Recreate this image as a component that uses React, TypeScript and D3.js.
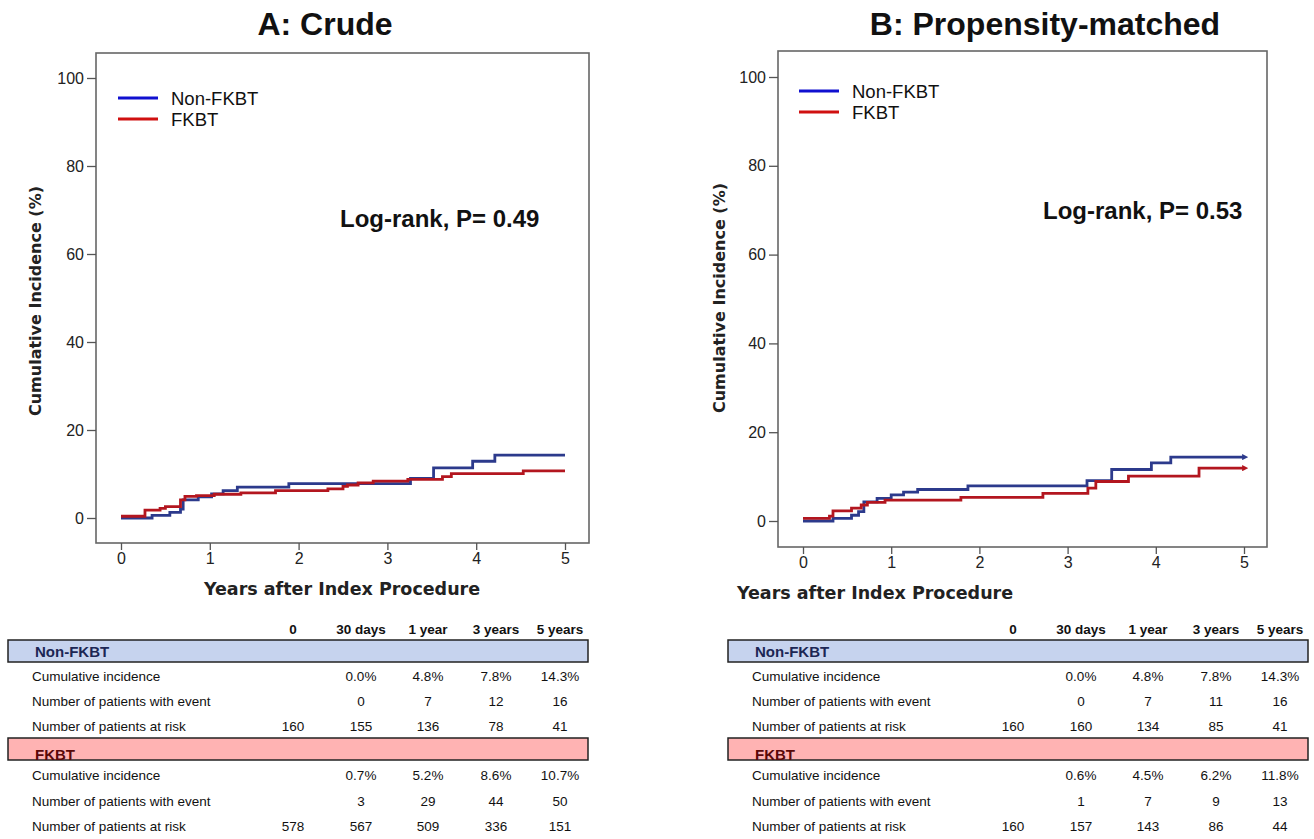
import React, { useRef, useEffect } from "react";
import { select, scaleLinear, line, curveStepAfter, axisLeft, axisBottom, format } from "d3";

// step points [years, cumulative incidence %]
const crudeNonFkbt = [
  [0, 0], [0.35, 0.6], [0.55, 1.3], [0.67, 2.0], [0.7, 4.1], [0.87, 4.8], [1.02, 5.5],
  [1.15, 6.2], [1.31, 7.0], [1.89, 7.8], [3.26, 9.0], [3.52, 11.4], [3.96, 12.9], [4.21, 14.3], [5, 14.3],
];
const crudeFkbt = [
  [0, 0.4], [0.27, 1.8], [0.44, 2.2], [0.5, 2.6], [0.67, 4.1], [0.72, 4.9], [0.85, 5.1], [1.05, 5.4],
  [1.35, 5.7], [1.74, 6.2], [2.33, 6.6], [2.5, 7.2], [2.55, 7.5], [2.67, 8.0], [2.84, 8.4],
  [3.23, 8.8], [3.62, 9.4], [3.72, 10.1], [4.53, 10.7], [5, 10.7],
];
const matchedNonFkbt = [
  [0, 0], [0.34, 0.6], [0.55, 1.3], [0.63, 2.1], [0.69, 4.3], [0.84, 5.1], [1.0, 5.9],
  [1.14, 6.5], [1.3, 7.1], [1.87, 7.9], [3.22, 9.1], [3.5, 11.6], [3.95, 13.1], [4.17, 14.4], [5, 14.4],
];
const matchedFkbt = [
  [0, 0.6], [0.3, 1.1], [0.34, 2.3], [0.55, 2.9], [0.66, 3.6], [0.73, 4.2], [0.93, 4.7],
  [1.79, 5.3], [2.72, 6.2], [3.23, 7.4], [3.32, 8.9], [3.69, 10.1], [4.49, 11.9], [5, 11.9],
];

const yearTicks = [0, 1, 2, 3, 4, 5];
const pctTicks = [0, 20, 40, 60, 80, 100];
const legendNames = ["Non-FKBT", "FKBT"];

const tableColumns = ["0", "30 days", "1 year", "3 years", "5 years"];
const rowLabels = ["Cumulative incidence", "Number of patients with event", "Number of patients at risk"];
const crudeNonFkbtRows = [
  ["", "0.0%", "4.8%", "7.8%", "14.3%"],
  ["", "0", "7", "12", "16"],
  ["160", "155", "136", "78", "41"],
];
const crudeFkbtRows = [
  ["", "0.7%", "5.2%", "8.6%", "10.7%"],
  ["", "3", "29", "44", "50"],
  ["578", "567", "509", "336", "151"],
];
const matchedNonFkbtRows = [
  ["", "0.0%", "4.8%", "7.8%", "14.3%"],
  ["", "0", "7", "11", "16"],
  ["160", "160", "134", "85", "41"],
];
const matchedFkbtRows = [
  ["", "0.6%", "4.5%", "6.2%", "11.8%"],
  ["", "1", "7", "9", "13"],
  ["160", "157", "143", "86", "44"],
];

const BLUE = "#2c3a8c";
const RED = "#b3161f";
const SANS = "'Liberation Sans', Arial, Helvetica, sans-serif";
const DEJA = "'DejaVu Sans', Verdana, sans-serif";

const panels = [
  {
    id: "a", title: "A: Crude", titleX: 325, pText: "Log-rank, P= 0.49", pX: 340, pY: 227,
    frame: { left: 96, top: 53, right: 589, bottom: 543 }, xRange: [121, 565], yRange: [518, 78],
    legendX: 118, legendY: 98, xLabelX: 342, xLabelY: 595, yLabelX: 41, yLabelY: 301,
    series: [crudeNonFkbt, crudeFkbt], arrows: false,
  },
  {
    id: "b", title: "B: Propensity-matched", titleX: 1045, pText: "Log-rank, P= 0.53", pX: 1043, pY: 219,
    frame: { left: 778, top: 51, right: 1267, bottom: 547 }, xRange: [803, 1244], yRange: [521, 77],
    legendX: 799, legendY: 91, xLabelX: 875, xLabelY: 599, yLabelX: 725, yLabelY: 298,
    series: [matchedNonFkbt, matchedFkbt], arrows: true,
  },
];

const Panel = ({ p }) => {
  const xRef = useRef();
  const yRef = useRef();
  const xScale = scaleLinear().domain([0, 5]).range(p.xRange);
  const yScale = scaleLinear().domain([0, 100]).range(p.yRange);

  useEffect(() => {
    const xAxis = axisBottom(xScale).tickValues(yearTicks).tickFormat(format("d")).tickSize(7).tickPadding(3);
    const gx = select(xRef.current).call(xAxis);
    gx.select(".domain").remove();
    gx.selectAll("line").attr("stroke", "#555").attr("stroke-width", 1.3);
    gx.selectAll("text").attr("font-size", 16).attr("font-family", SANS).attr("fill", "#222");

    const yAxis = axisLeft(yScale).tickValues(pctTicks).tickFormat(format("d")).tickSize(9).tickPadding(3);
    const gy = select(yRef.current).call(yAxis);
    gy.select(".domain").remove();
    gy.selectAll("line").attr("stroke", "#555").attr("stroke-width", 1.3);
    gy.selectAll("text").attr("font-size", 16).attr("font-family", SANS).attr("fill", "#222");
  }, []);

  const gen = line()
    .x((d) => xScale(d[0]))
    .y((d) => yScale(d[1]))
    .curve(curveStepAfter);

  const colors = [BLUE, RED];
  const f = p.frame;
  return (
    <g>
      <text x={p.titleX} y={35} textAnchor="middle" fontFamily={SANS} fontWeight="bold" fontSize={32} fill="#111">
        {p.title}
      </text>
      <rect x={f.left} y={f.top} width={f.right - f.left} height={f.bottom - f.top} fill="#fff" stroke="#666" strokeWidth={1.6} />
      <g ref={xRef} transform={`translate(0,${f.bottom})`} />
      <g ref={yRef} transform={`translate(${f.left},0)`} />
      {p.series.map((s, i) => (
        <path key={i} d={gen(s)} fill="none" stroke={colors[i]} strokeWidth={2.8} strokeLinejoin="miter"
          markerEnd={p.arrows ? `url(#arrow-${i})` : undefined} />
      ))}
      {legendNames.map((n, i) => (
        <g key={n}>
          <line x1={p.legendX} x2={p.legendX + 40} y1={p.legendY + i * 21} y2={p.legendY + i * 21}
            stroke={i === 0 ? "#1010d0" : "#d01010"} strokeWidth={3} />
          <text x={p.legendX + 53} y={p.legendY + i * 21 + 6.5} fontFamily={SANS} fontSize={18.5} fill="#111">{n}</text>
        </g>
      ))}
      <text x={p.pX} y={p.pY} fontFamily={SANS} fontWeight="bold" fontSize={24} fill="#111">{p.pText}</text>
      <text x={p.xLabelX} y={p.xLabelY} textAnchor="middle" fontFamily={DEJA} fontWeight="bold" fontSize={17.5} fill="#222">
        Years after Index Procedure
      </text>
      <text transform={`translate(${p.yLabelX},${p.yLabelY}) rotate(-90)`} textAnchor="middle" fontFamily={DEJA}
        fontWeight="bold" fontSize={16} fill="#222">
        Cumulative Incidence (%)
      </text>
    </g>
  );
};

const RiskTable = ({ dx, nonRows, fkRows }) => {
  const colX = [293, 361, 428, 496, 560].map((v) => v + dx);
  const groups = [
    { name: "Non-FKBT", rows: nonRows, barY: 640, fill: "#c6d3ee", ink: "#1c2654", rowY: [676, 701, 726] },
    { name: "FKBT", rows: fkRows, barY: 738, fill: "#ffb3b3", ink: "#5a0808", rowY: [775, 801, 826] },
  ];
  return (
    <g fontFamily={SANS}>
      {tableColumns.map((c, i) => (
        <text key={c} x={colX[i]} y={634} textAnchor="middle" fontWeight="bold" fontSize={13.5} fill="#111">{c}</text>
      ))}
      {groups.map((g) => (
        <g key={g.name}>
          <rect x={8 + dx} y={g.barY} width={580} height={22} fill={g.fill} stroke="#222" strokeWidth={1.5} />
          <text x={35 + dx} y={g.barY + (g.name === "FKBT" ? 22 : 17)} fontWeight="bold" fontSize={15} fill={g.ink}>{g.name}</text>
          {g.rows.map((r, ri) => (
            <g key={ri}>
              <text x={32 + dx} y={g.rowY[ri] + 5} fontSize={13.5} fill="#111">{rowLabels[ri]}</text>
              {r.map((v, ci) => (
                <text key={ci} x={colX[ci]} y={g.rowY[ri] + 5} textAnchor="middle" fontSize={13.5} fill="#111">{v}</text>
              ))}
            </g>
          ))}
        </g>
      ))}
    </g>
  );
};

export default function App() {
  return (
    <svg width={1314} height={839} style={{ position: "absolute", left: 0, top: 0, background: "#fff" }}>
      <defs>
        {[BLUE, RED].map((c, i) => (
          <marker key={i} id={`arrow-${i}`} viewBox="0 0 10 10" refX={3} refY={5} markerWidth={2.2} markerHeight={2.2} orient="auto">
            <path d="M0,0 L10,5 L0,10 z" fill={c} />
          </marker>
        ))}
      </defs>
      {panels.map((p) => (
        <Panel key={p.id} p={p} />
      ))}
      <RiskTable dx={0} nonRows={crudeNonFkbtRows} fkRows={crudeFkbtRows} />
      <RiskTable dx={720} nonRows={matchedNonFkbtRows} fkRows={matchedFkbtRows} />
    </svg>
  );
}
